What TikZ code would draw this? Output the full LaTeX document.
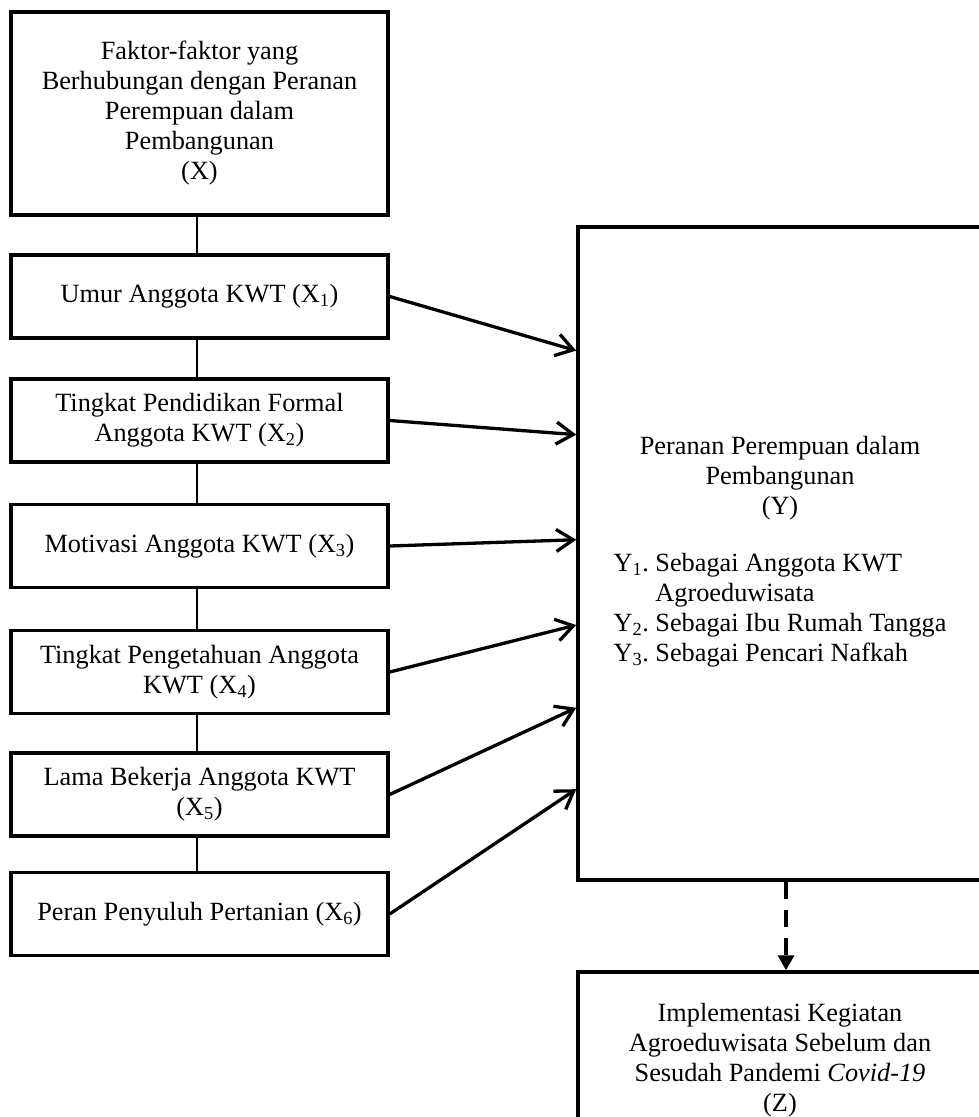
\documentclass[tikz,border=0pt]{standalone}
\usepackage{fontspec}
\setmainfont{Liberation Serif}
\frenchspacing
\usetikzlibrary{arrows.meta,calc}

\begin{document}
\begin{tikzpicture}[x=1pt, y=-1pt,
    box/.style={draw, line width=3.5pt, minimum width=377pt,
      minimum height=83pt, inner sep=0pt, align=center,
      font=\fontsize{26.3pt}{30pt}\selectfont},
    link/.style={line width=2pt},
    effect/.style={line width=3.3pt, -{Straight Barb[length=17pt,width=22pt]}},
    dashlink/.style={line width=3.5pt, dash pattern=on 17pt off 11pt,
      -{Triangle[length=15pt,width=16pt]}} ]

    % Page frame, the right and lower boxes run off it
    \useasboundingbox (0,0) rectangle (979,1117);
    \clip (0,0) rectangle (979,1117);

    % Factor boxes
    \node[box, minimum height=203pt] (fx) at (199.5,113.5)
    {Faktor-faktor yang\\ Berhubungan dengan Peranan\\ Perempuan dalam\\
    Pembangunan\\ (X)};
    \node[box] (x1) at (199.5,296.5) {Umur Anggota KWT (X\textsubscript{1})};
    \node[box] (x2) at (199.5,420.5) {Tingkat Pendidikan Formal\\ Anggota KWT
    (X\textsubscript{2})}; \node[box] (x3) at (199.5,546) {Motivasi Anggota KWT
    (X\textsubscript{3})}; \node[box] (x4) at (199.5,672) {Tingkat Pengetahuan
    Anggota\\ KWT (X\textsubscript{4})}; \node[box] (x5) at (199.5,794.5) {Lama
    Bekerja Anggota KWT\\ (X\textsubscript{5})}; \node[box] (x6) at
    (199.5,914) {Peran Penyuluh Pertanian (X\textsubscript{6})};

    % Vertical links between factors
    \foreach \a/\b in {fx/x1, x1/x2, x2/x3, x3/x4, x4/x5, x5/x6}
      \draw[link] ([xshift=-3pt]\a.south) -- ([xshift=-3pt]\b.north);

    % Role box
    \node[box, minimum width=404pt, minimum height=653pt] (peranan) at
    (780,553.5) {Peranan Perempuan dalam\\ Pembangunan\\ (Y)\\[27pt]
      \begin{tabular}[t]{@{}l@{}}
        Y\textsubscript{1}. Sebagai Anggota KWT\\
        \phantom{Y\textsubscript{1}. }Agroeduwisata\\
        Y\textsubscript{2}. Sebagai Ibu Rumah Tangga\\
        Y\textsubscript{3}. Sebagai Pencari Nafkah
      \end{tabular}};

    % Implementation box
    \node[box, minimum width=404pt, minimum height=176pt] (impl) at
    (780,1060) {Implementasi Kegiatan\\ Agroeduwisata Sebelum dan\\ Sesudah
    Pandemi \textit{Covid-19}\\ (Z)};

    % Arrows from the factors
    \foreach \i/\t in {1/0.191, 2/0.319, 3/0.479, 4/0.609, 5/0.735, 6/0.859}
      \draw[effect] (x\i.east) -- ($(peranan.north west)!\t!(peranan.south west)$);

    % Dashed arrow down
    \draw[dashlink] ([xshift=6pt]peranan.south) -- ([xshift=6pt]impl.north);

\end{tikzpicture}
\end{document}
